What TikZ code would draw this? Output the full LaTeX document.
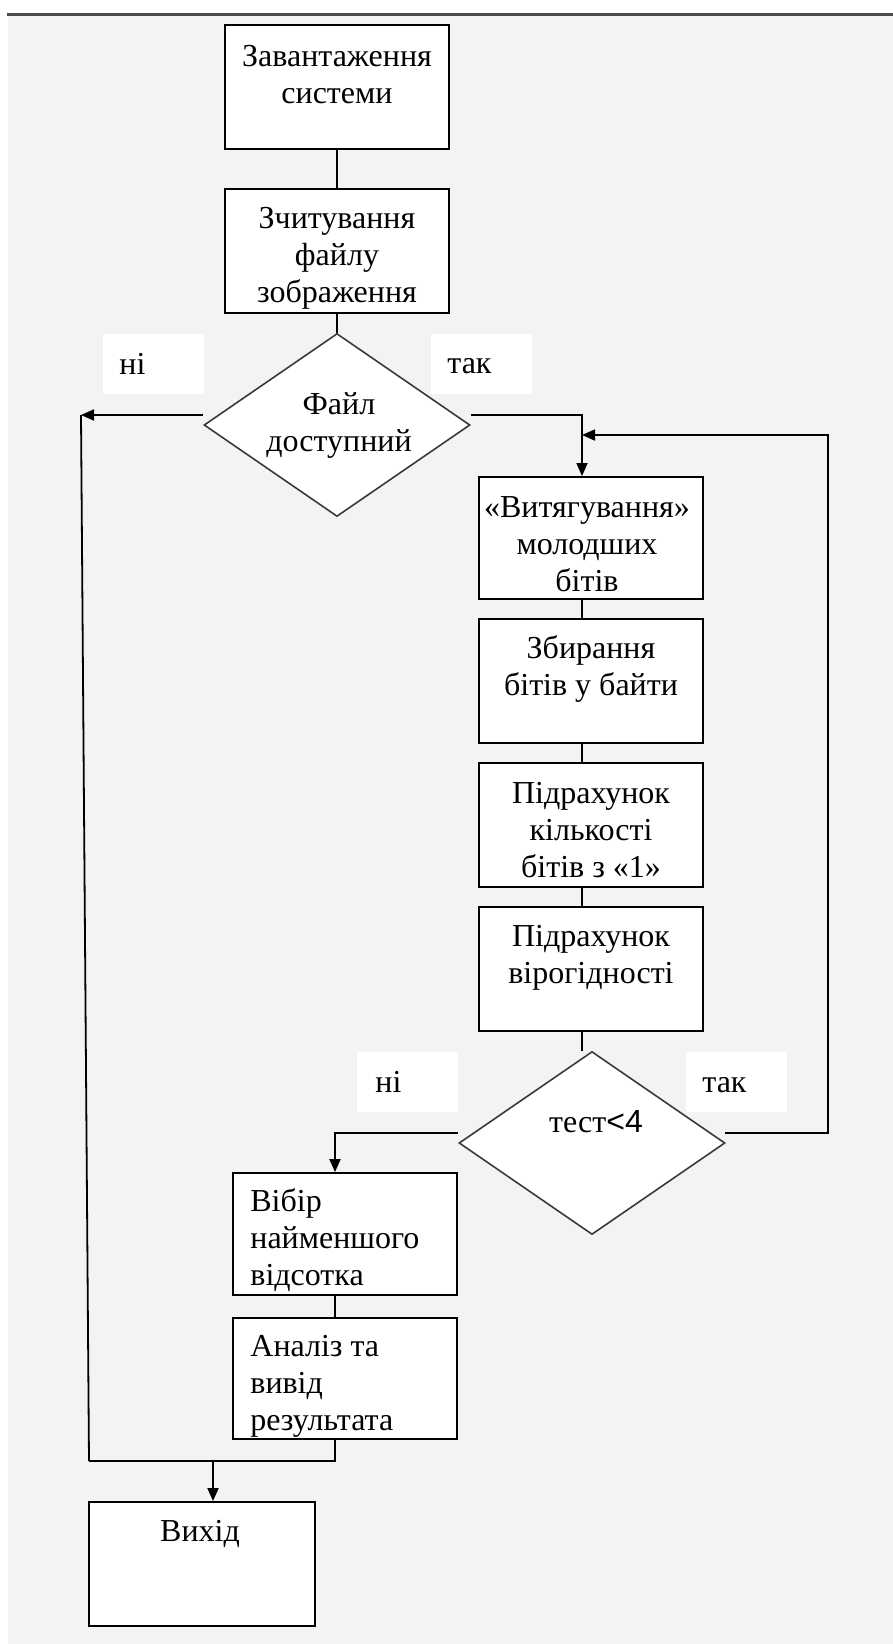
\documentclass[tikz,border=0pt]{standalone}
\usepackage{fontspec}
\setmainfont{Liberation Serif}
\newfontfamily\sansf{Liberation Sans}
\usetikzlibrary{shapes.geometric,arrows.meta}
\definecolor{bg}{HTML}{F3F3F3}
\definecolor{topline}{HTML}{4A4A4A}
\definecolor{diaedge}{HTML}{3A3A3A}
\begin{document}
\begin{tikzpicture}[x=0.5pt,y=-0.5pt,
  box/.style={draw=black, line width=0.95pt, fill=white, minimum width=112pt, minimum height=62pt, inner sep=0pt},
  dia/.style={shape=diamond, draw=diaedge, line width=0.8pt, fill=white, minimum width=133pt, minimum height=91.5pt, inner sep=0pt},
  lblbox/.style={fill=white, inner sep=0pt, minimum width=50.5pt, minimum height=30pt},
  txt/.style={font=\fontsize{16pt}{18.5pt}\selectfont, inner sep=0pt, align=center, anchor=base},
  ltxt/.style={font=\fontsize{16pt}{18.5pt}\selectfont, inner sep=0pt, align=left, anchor=base west},
  conn/.style={draw=black, line width=0.9pt},
  arr/.style={conn, -{Triangle[length=6.5pt,width=5.5pt]}}]
\useasboundingbox (0,0) rectangle (893,1644);
% background
\fill[white] (0,0) rectangle (893,1644);
\fill[bg] (8,15) rectangle (893,1644);
\draw[topline, line width=1.5pt] (7,14) -- (893,14);
% label boxes
\node[lblbox] (lno1) at (153,363.5) {};
\node[lblbox] (lyes1) at (481.5,363.5) {};
\node[lblbox] (lno2) at (407.5,1081.5) {};
\node[lblbox] (lyes2) at (736,1081.5) {};
% boxes
\node[box] (b1) at (337,87) {};
\node[box] (b2) at (337,251) {};
\node[dia] (d1) at (337,425) {};
\node[box, minimum height=61pt] (b3) at (591,538) {};
\node[box] (b4) at (591,681) {};
\node[box] (b5) at (591,825) {};
\node[box] (b6) at (591,969) {};
\node[dia] (d2) at (592,1143) {};
\node[box, minimum height=61pt] (b7) at (345,1234) {};
\node[box, minimum height=60.5pt] (b8) at (345,1378.5) {};
\node[box, minimum width=113pt] (b9) at (202,1564) {};
% coordinates
\coordinate (vx) at (582,0);
\coordinate (nx) at (335,0);
\coordinate (d1l) at (203,415);
\coordinate (cL) at (81,415);
\coordinate (d1r) at (471,415);
\coordinate (d2r) at (725,1133);
\coordinate (cR) at (828,1133);
\coordinate (cRt) at (828,435);
\coordinate (d2l) at (458,1133);
\coordinate (jB) at (89,1461);
\coordinate (jA) at (213,1461);
% connectors
\draw[conn] (b1.south) -- (b2.north);
\draw[conn] (b2.south) -- (d1.north);
\draw[arr] (d1l) -- (cL);
\draw[conn] (cL) -- (jB);
\draw[arr] (d1r) -- (vx |- d1r) -- (vx |- b3.north);
\draw[conn] (vx |- b3.south) -- (vx |- b4.north);
\draw[conn] (vx |- b4.south) -- (vx |- b5.north);
\draw[conn] (vx |- b5.south) -- (vx |- b6.north);
\draw[conn] (vx |- b6.south) -- (vx |- d2.north);
\draw[arr] (d2r) -- (cR) -- (cRt) -- (vx |- cRt);
\draw[arr] (d2l) -- (nx |- d2l) -- (nx |- b7.north);
\draw[conn] (nx |- b7.south) -- (nx |- b8.north);
\draw[conn] (nx |- b8.south) -- (nx |- jB) -- (jB);
\draw[arr] (jA) -- (jA |- b9.north);
% texts (base anchor = baseline of last line)
\node[txt] (t1) at (337,103) {Завантаження\\системи};
\node[txt] (t2) at (337,302) {Зчитування\\файлу\\зображення};
\node[txt] (td1) at (339,451) {Файл\\доступний};
\node[txt] (t3) at (587,591) {«Витягування»\\молодших\\бітів};
\node[txt] (t4) at (591,695) {Збирання\\бітів у байти};
\node[txt] (t5) at (591,877) {Підрахунок\\кількості\\бітів з «1»};
\node[txt] (t6) at (591,983) {Підрахунок\\вірогідності};
\node[txt] (td2) at (596,1132) {тест{\sansf<4}};
\node[ltxt] (t7) at (250,1285) {Вібір\\найменшого\\відсотка};
\node[ltxt] (t8) at (250,1430) {Аналіз та\\вивід\\результата};
\node[txt] (t9) at (200,1541) {Вихід};
\node[ltxt] (n1) at (119,374) {ні};
\node[ltxt] (y1) at (447,373) {так};
\node[ltxt] (n2) at (375,1092) {ні};
\node[ltxt] (y2) at (702,1092) {так};
\end{tikzpicture}
\end{document}
